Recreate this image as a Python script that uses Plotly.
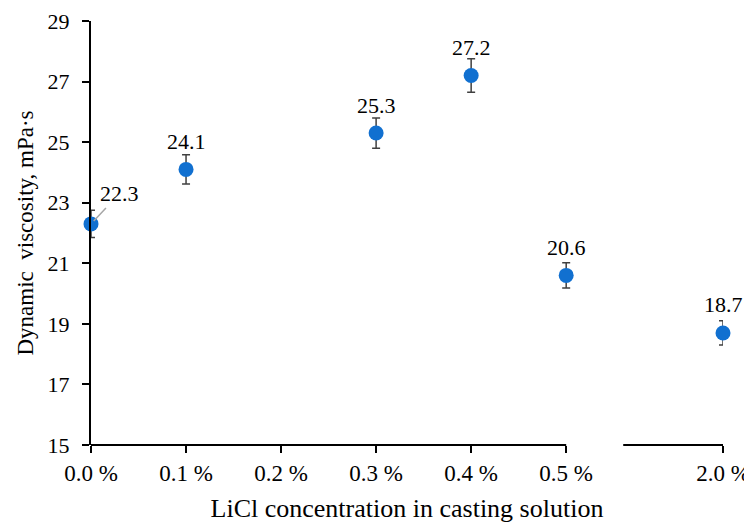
import plotly.graph_objects as go

categories = ["0.0 %", "0.1 %", "0.2 %", "0.3 %", "0.4 %", "0.5 %", "2.0 %"]
cat_pos = [0, 1, 2, 3, 4, 5, 6.65]          # axis position of each category (break before 2.0 %)
point_cats = ["0.0 %", "0.1 %", "0.3 %", "0.4 %", "0.5 %", "2.0 %"]
viscosity = [22.3, 24.1, 25.3, 27.2, 20.6, 18.7]
errors = [0.45, 0.48, 0.5, 0.55, 0.42, 0.4]
y_ticks = [15, 17, 19, 21, 23, 25, 27, 29]

pos_map = dict(zip(categories, cat_pos))
px = [pos_map[c] for c in point_cats]

FONT = "Liberation Serif"

fig = go.Figure()
fig.add_trace(go.Scatter(
    x=px, y=viscosity, mode="markers",
    marker=dict(color="#1170d0", size=15),
    error_y=dict(type="data", array=errors, color="#404040", thickness=1.5, width=4),
    cliponaxis=False, showlegend=False,
))

annotations = []
for i, (x, v) in enumerate(zip(px, viscosity)):
    if i == 0:
        annotations.append(dict(x=x, y=v, text=f"{v:.1f}", showarrow=True, arrowhead=0,
                                arrowwidth=1.5, arrowcolor="#a6a6a6", ax=28, ay=-30,
                                standoff=4, font=dict(family=FONT, size=22, color="black")))
    else:
        annotations.append(dict(x=x, y=v, text=f"{v:.1f}", showarrow=False, yshift=28,
                                font=dict(family=FONT, size=22, color="black")))

shapes = [
    dict(type="line", xref="x", yref="paper", x0=0, x1=5, y0=0, y1=0,
         line=dict(color="black", width=2)),
    dict(type="line", xref="x", yref="paper", x0=5.6, x1=6.65, y0=0, y1=0,
         line=dict(color="black", width=2)),
]

fig.update_layout(
    width=752, height=522,
    margin=dict(l=83, r=37, t=13, b=85),
    paper_bgcolor="white", plot_bgcolor="white",
    font=dict(family=FONT, size=20, color="black"),
    annotations=annotations, shapes=shapes,
)
fig.update_xaxes(
    range=[0, 6.65], tickmode="array", tickvals=cat_pos, ticktext=categories,
    showline=False, showgrid=False, zeroline=False, automargin=False,
    ticks="outside", ticklen=7, tickwidth=2, tickcolor="black",
    tickfont=dict(family=FONT, size=23),
    title=dict(text="LiCl concentration in casting solution", font=dict(family=FONT, size=26), standoff=14),
)
fig.update_yaxes(
    range=[15, 29], tickmode="array", tickvals=y_ticks,
    showline=True, linecolor="black", linewidth=2, showgrid=False, zeroline=False, automargin=False,
    ticks="outside", ticklen=7, tickwidth=2, tickcolor="black", ticklabelstandoff=8,
    tickfont=dict(family=FONT, size=22),
    title=dict(text="Dynamic  viscosity, mPa·s", font=dict(family=FONT, size=23), standoff=8),
)

fig.write_html("out.html")
